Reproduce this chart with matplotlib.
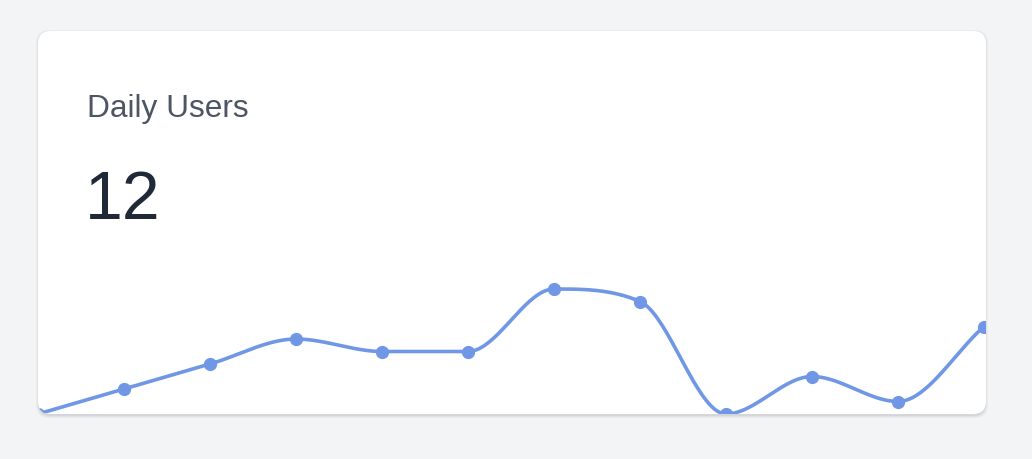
import numpy as np
import matplotlib.pyplot as plt
from matplotlib.patches import FancyBboxPatch

title = "Daily Users"
current_value = "12"
days = list(range(12))
users = [0, 2, 4, 6, 5, 5, 10, 9, 0, 3, 1, 7]

W, H = 1032, 460
fig = plt.figure(figsize=(W / 100, H / 100), dpi=100)
fig.patch.set_facecolor("#f3f4f6")

# card geometry in pixels
cx0, cy0, cx1, cy1 = 38, 32, 986, 415
rad = 13


def fig_box(x0, y0, x1, y1, **kw):
    return FancyBboxPatch((x0 / W, 1 - y1 / H), (x1 - x0) / W, (y1 - y0) / H,
                          boxstyle=f"round,pad=0,rounding_size={rad / W}",
                          transform=fig.transFigure, mutation_aspect=W / H, **kw)


# soft shadow
for i, a in enumerate([0.05, 0.04, 0.03]):
    s = fig_box(cx0 - i, cy0 - i + 1, cx1 + i, cy1 + i + 2,
                facecolor="black", edgecolor="none", alpha=a, zorder=0)
    fig.patches.append(s)
card = fig_box(cx0, cy0, cx1, cy1, facecolor="white", edgecolor="none", zorder=1)
fig.patches.append(card)

fig.text(87 / W, 1 - 116.5 / H, title, fontsize=22.8, color="#4b5563",
         family="Liberation Sans", va="baseline", zorder=3)
fig.text(85 / W, 1 - 219 / H, current_value, fontsize=49, color="#1f2937",
         family="Liberation Sans", va="baseline", zorder=3)


def monotone(x, y, n=40):
    x = np.asarray(x, float)
    y = np.asarray(y, float)
    d = np.diff(y) / np.diff(x)
    m = np.zeros(len(x))
    m[0], m[-1] = d[0], d[-1]
    for k in range(1, len(x) - 1):
        m[k] = 0 if d[k - 1] * d[k] <= 0 else (d[k - 1] + d[k]) / 2
    for k in range(len(d)):
        if d[k] == 0:
            m[k] = m[k + 1] = 0
            continue
        a, b = m[k] / d[k], m[k + 1] / d[k]
        s = a * a + b * b
        if s > 9:
            t = 3 / np.sqrt(s)
            m[k], m[k + 1] = t * a * d[k], t * b * d[k]
    xs, ys = [], []
    for k in range(len(d)):
        h = x[k + 1] - x[k]
        t = np.linspace(0, 1, n)
        h00 = 2 * t**3 - 3 * t**2 + 1
        h10 = t**3 - 2 * t**2 + t
        h01 = -2 * t**3 + 3 * t**2
        h11 = t**3 - t**2
        xs.append(x[k] + t * h)
        ys.append(h00 * y[k] + h10 * h * m[k] + h01 * y[k + 1] + h11 * h * m[k + 1])
    return np.concatenate(xs), np.concatenate(ys)


step = 86
ax = fig.add_axes([cx0 / W, 1 - cy1 / H, (cx1 - cx0) / W, (cy1 - cy0) / H])
ax.set_xlim(0, (cx1 - cx0) / step)
ax.set_ylim(0, (cy1 - cy0) / 12.5)
ax.axis("off")
ax.patch.set_alpha(0)
ax.set_zorder(2)

color = "#6f97e6"
sx, sy = monotone(days, users)
ln, = ax.plot(sx, sy, color=color, lw=2.6, solid_capstyle="round", clip_on=True)
pts, = ax.plot(days, users, "o", color=color, ms=8.5, clip_on=True)
ln.set_clip_path(card)
pts.set_clip_path(card)

fig.savefig("out.png", dpi=100)
